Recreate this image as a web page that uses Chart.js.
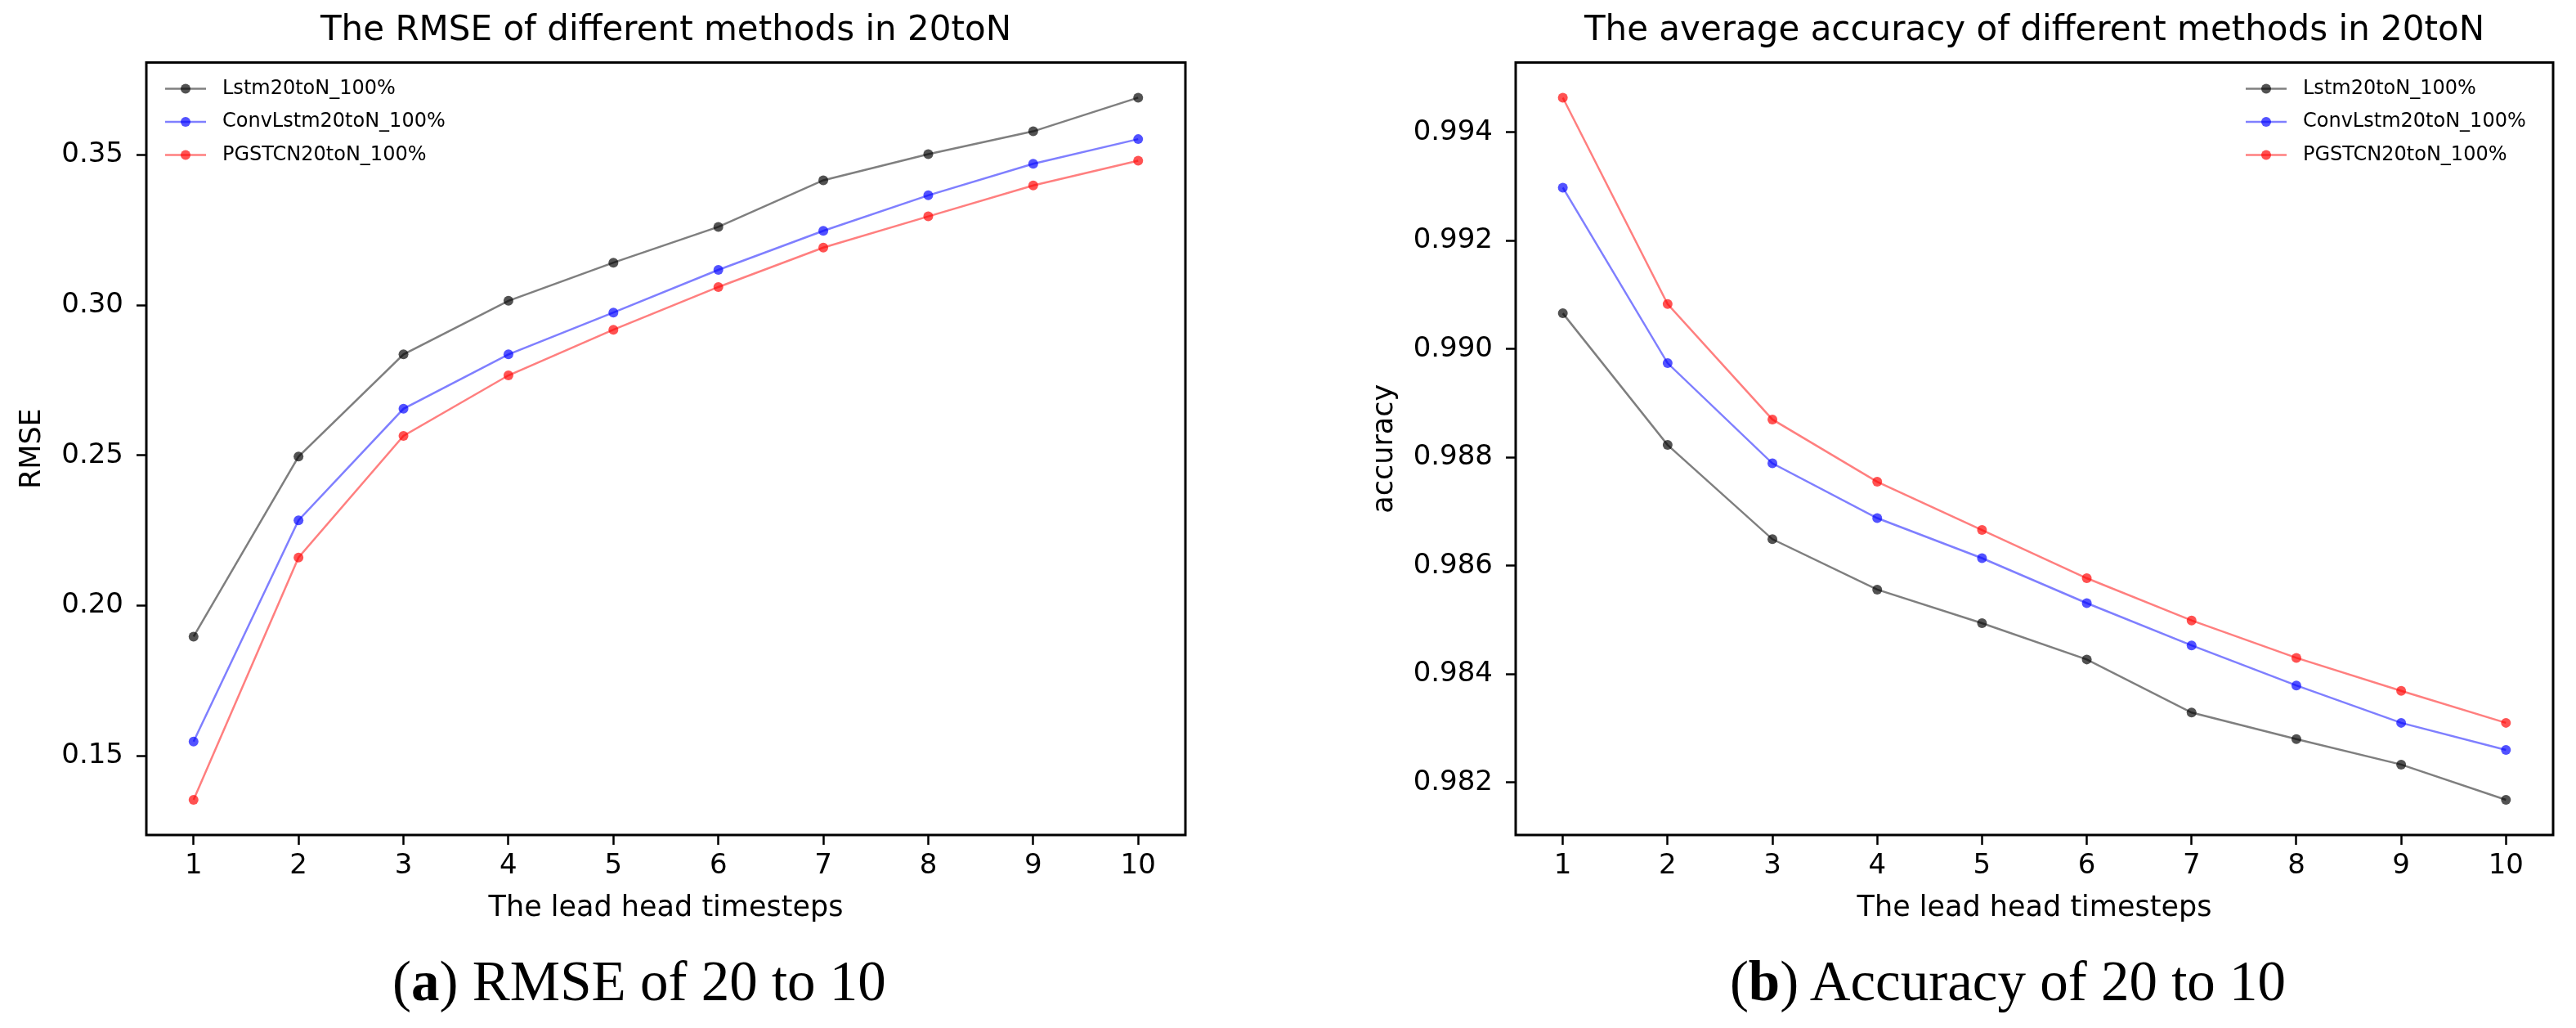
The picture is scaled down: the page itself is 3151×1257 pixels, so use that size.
<!DOCTYPE html>
<html>
<head>
<meta charset="utf-8">
<script src="https://cdn.jsdelivr.net/npm/chart.js@4.4.1/dist/chart.umd.min.js"></script>
<style>
body{margin:0;background:#fff;width:3151px;height:1257px;overflow:hidden;position:relative;}
canvas{position:absolute;top:0;}
.cap{position:absolute;width:1000px;text-align:center;font-family:'Liberation Serif',serif;font-size:69px;line-height:69px;color:#000;white-space:nowrap;}
</style>
</head>
<body>
<canvas id="rmseChart" width="1500" height="1140" style="left:0px"></canvas>
<canvas id="accChart" width="1651" height="1140" style="left:1500px"></canvas>
<div class="cap" style="left:282px;top:1166px">(<b>a</b>) RMSE of 20 to 10</div>
<div class="cap" style="left:1956px;top:1166px">(<b>b</b>) Accuracy of 20 to 10</div>
<script>
// x categories
var steps = [1, 2, 3, 4, 5, 6, 7, 8, 9, 10];
var names = ['Lstm20toN_100%', 'ConvLstm20toN_100%', 'PGSTCN20toN_100%'];

// RMSE (a)
var lstmRmse = [0.1897, 0.2496, 0.2836, 0.3014, 0.3141, 0.3260, 0.3415, 0.3502, 0.3578, 0.3690];
var convRmse = [0.1548, 0.2284, 0.2655, 0.2836, 0.2975, 0.3117, 0.3247, 0.3365, 0.3470, 0.3552];
var pgstRmse = [0.1354, 0.2160, 0.2565, 0.2766, 0.2918, 0.3060, 0.3191, 0.3295, 0.3398, 0.3480];
var rmseTicks = [0.15, 0.20, 0.25, 0.30, 0.35];

// accuracy (b)
var lstmAcc = [0.99066, 0.98823, 0.98649, 0.98556, 0.98494, 0.98427, 0.98329, 0.98280, 0.98233, 0.98168];
var convAcc = [0.99298, 0.98974, 0.98789, 0.98688, 0.98614, 0.98531, 0.98453, 0.98379, 0.98310, 0.98260];
var pgstAcc = [0.99464, 0.99083, 0.98870, 0.98755, 0.98666, 0.98577, 0.98499, 0.98430, 0.98369, 0.98310];
var accTicks = [0.982, 0.984, 0.986, 0.988, 0.990, 0.992, 0.994];

var lineCols = ['rgba(0,0,0,0.5)', 'rgba(0,0,255,0.5)', 'rgba(255,0,0,0.5)'];
var dotCols = ['rgba(0,0,0,0.68)', 'rgba(0,0,255,0.68)', 'rgba(255,0,0,0.68)'];

Chart.defaults.font.family = "'DejaVu Sans', sans-serif";
Chart.defaults.color = '#000';

// frame + legend inside the axes
var boxLegend = {
  id: 'boxLegend',
  afterDraw: function (chart, args, opts) {
    var ctx = chart.ctx, a = chart.chartArea;
    ctx.save();
    ctx.strokeStyle = '#000';
    ctx.lineWidth = 3;
    ctx.strokeRect(a.left, a.top, a.right - a.left, a.bottom - a.top);
    ctx.font = "24px 'DejaVu Sans'";
    ctx.textBaseline = 'middle';
    var x0 = opts.align === 'right' ? a.right - 376 : a.left + 23;
    chart.data.datasets.forEach(function (d, i) {
      var y = a.top + 32 + i * 40.5;
      ctx.strokeStyle = d.borderColor;
      ctx.lineWidth = d.borderWidth;
      ctx.beginPath();
      ctx.moveTo(x0, y);
      ctx.lineTo(x0 + 50, y);
      ctx.stroke();
      ctx.fillStyle = d.pointBackgroundColor;
      ctx.beginPath();
      ctx.arc(x0 + 25, y, 6, 0, Math.PI * 2);
      ctx.fill();
      ctx.fillStyle = '#000';
      ctx.fillText(d.label, x0 + 70, y);
    });
    ctx.restore();
  }
};

function makeChart(id, p) {
  var sets = p.series.map(function (vals, i) {
    return {
      label: names[i],
      data: vals,
      borderColor: lineCols[i],
      borderWidth: 2.5,
      pointBackgroundColor: dotCols[i],
      pointBorderWidth: 0,
      pointRadius: 6,
      tension: 0
    };
  });
  return new Chart(document.getElementById(id), {
    type: 'line',
    data: { labels: steps, datasets: sets },
    plugins: [boxLegend],
    options: {
      responsive: false,
      animation: false,
      devicePixelRatio: 1,
      layout: { padding: { left: p.padLeft, right: p.padRight, top: 0, bottom: 0 } },
      plugins: {
        legend: { display: false },
        tooltip: { enabled: false },
        title: {
          display: true,
          text: p.title,
          fullSize: false,
          font: { size: 42, weight: 'normal' },
          padding: { top: 13, bottom: 13 }
        },
        boxLegend: { align: p.legendAlign }
      },
      scales: {
        x: {
          type: 'linear',
          min: 0.55,
          max: 10.45,
          afterBuildTicks: function (s) { s.ticks = steps.map(function (v) { return { value: v }; }); },
          afterFit: function (s) { s.height = 119; },
          ticks: { font: { size: 34 }, padding: 6, maxRotation: 0, callback: function (v) { return String(v); } },
          grid: { drawOnChartArea: false, drawTicks: true, tickLength: 12, tickColor: '#000', tickWidth: 2.5 },
          border: { display: false },
          title: { display: true, text: 'The lead head timesteps', font: { size: 35 }, padding: { top: 0, bottom: 8 } }
        },
        y: {
          min: p.yMin,
          max: p.yMax,
          afterBuildTicks: function (s) { s.ticks = p.yTicks.map(function (v) { return { value: v }; }); },
          afterFit: function (s) { s.width = p.yWidth; },
          ticks: { font: { size: 34 }, padding: 16, callback: function (v) { return v.toFixed(p.decimals); } },
          grid: { drawOnChartArea: false, drawTicks: true, tickLength: 12, tickColor: '#000', tickWidth: 2.5 },
          border: { display: false },
          title: { display: true, text: p.yTitle, font: { size: 35 }, padding: { top: p.yTitlePad, bottom: 0 } }
        }
      }
    }
  });
}

makeChart('rmseChart', {
  title: 'The RMSE of different methods in 20toN',
  yTitle: 'RMSE',
  series: [lstmRmse, convRmse, pgstRmse],
  yMin: 0.1237, yMax: 0.3807, yTicks: rmseTicks, decimals: 2,
  padLeft: 0, padRight: 50, yWidth: 179, yTitlePad: 19,
  legendAlign: 'left'
});

makeChart('accChart', {
  title: 'The average accuracy of different methods in 20toN',
  yTitle: 'accuracy',
  series: [lstmAcc, convAcc, pgstAcc],
  yMin: 0.98103, yMax: 0.99529, yTicks: accTicks, decimals: 3,
  padLeft: 150, padRight: 28, yWidth: 204, yTitlePad: 23,
  legendAlign: 'right'
});
</script>
</body>
</html>
